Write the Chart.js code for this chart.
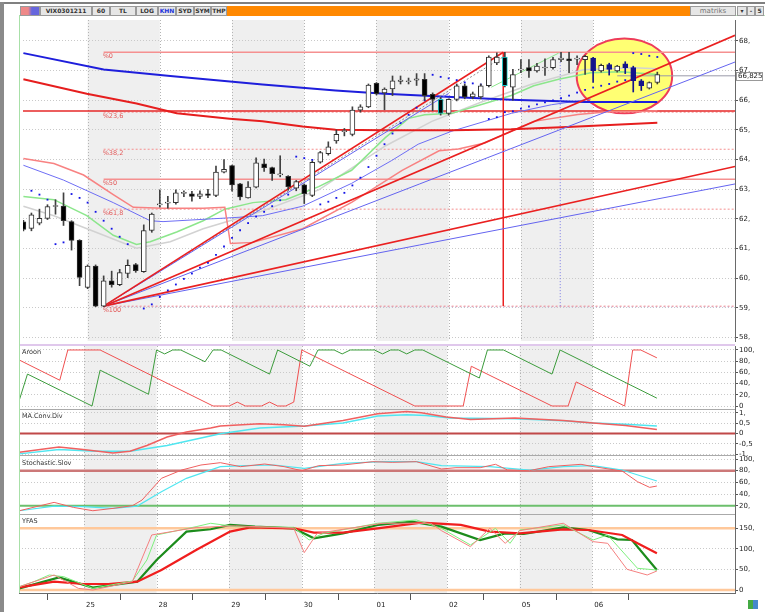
<!DOCTYPE html>
<html>
<head>
<meta charset="utf-8">
<script src="https://cdn.jsdelivr.net/npm/chart.js@4.4.1/dist/chart.umd.min.js"></script>
<style>
body { margin: 0; width: 765px; height: 612px; background: #fff; position: relative; overflow: hidden; font-family: "DejaVu Sans", sans-serif; }
canvas { position: absolute; left: 19px; }
.abs { position: absolute; }
.btn { position: absolute; top: 6px; height: 8px; background: #e6e6e6; border: 1px solid #9a9a9a; font: bold 6px "DejaVu Sans", sans-serif; color: #333; line-height: 8px; text-align: center; }
.ttl { position: absolute; left: 22px; font: 6.5px "DejaVu Sans", sans-serif; color: #333; z-index: 5; }
.sep { position: absolute; left: 19px; width: 716px; }
</style>
</head>
<body>
<div class="abs" style="left:0;top:2px;width:765px;height:2px;background:#808080"></div>
<div class="abs" style="left:0;top:2px;width:4px;height:610px;background:#8a8a8a"></div>
<div class="abs" style="left:19px;top:15px;width:746px;height:1px;background:#b8e8b8"></div>
<div class="abs" style="left:19px;top:15px;width:1px;height:578px;background:#a8e0a8;z-index:4"></div>

<div class="btn" style="left:20px;width:18px;background:linear-gradient(90deg,#e88 0,#e88 40%,#66d 60%,#66d 100%)"></div>
<div class="btn" style="left:40px;width:50px">VIX0301211</div>
<div class="btn" style="left:92px;width:16px">60</div>
<div class="btn" style="left:110px;width:24px">TL</div>
<div class="btn" style="left:136px;width:20px">LOG</div>
<div class="btn" style="left:158px;width:16px;color:#2233dd">KHN</div>
<div class="btn" style="left:176px;width:16px">SYD</div>
<div class="btn" style="left:194px;width:15px">SYM</div>
<div class="btn" style="left:211px;width:14px">THP</div>
<div class="abs" style="left:227px;top:6px;width:463px;height:10px;background:#ff8800"></div>
<div class="btn" style="left:690px;width:44px;font-weight:normal;font-size:7px;color:#777">matriks</div>
<div class="btn" style="left:737px;width:8px">▾</div>
<div class="btn" style="left:747px;width:6px">-</div>
<div class="btn" style="left:755px;width:7px">5</div>

<canvas id="cMain" width="746" height="329" style="top:16px"></canvas>
<canvas id="cAroon" width="746" height="64" style="top:346px"></canvas>
<canvas id="cMacd" width="746" height="46" style="top:410px"></canvas>
<canvas id="cStoch" width="746" height="59" style="top:456px"></canvas>
<canvas id="cYfas" width="746" height="97" style="top:515px"></canvas>

<div class="sep" style="top:344px;height:2px;background:#e0c8ec"></div>
<div class="sep" style="top:409px;height:1px;background:#aaa"></div>
<div class="sep" style="top:455px;height:1px;background:#aaa"></div>
<div class="sep" style="top:514px;height:1px;background:#aaa"></div>

<div class="ttl" style="top:348px">Aroon</div>
<div class="ttl" style="top:412px">MA.Conv.Div</div>
<div class="ttl" style="top:459px">Stochastic.Slov</div>
<div class="ttl" style="top:517px">YFAS</div>
<div class="abs" style="left:748px;top:600px;width:10px;height:9px;background:linear-gradient(90deg,#4a4 0,#4a4 50%,#48c 50%,#48c 100%)"></div>

<script>
// hourly bars, 9 per day; bar index k
const dayStarts = [8, 17, 26, 35, 44, 53, 62, 71];
const dayLabels = ['25', '28', '29', '30', '01', '02', '05', '06'];
const X_MIN = -0.05, X_MAX = 88.68;

const opens  = [61.90,61.68,61.86,62.02,62.42,62.43,61.91,61.28,59.69,60.41,59.06,59.91,59.78,60.16,60.46,60.22,61.61,62.47,62.53,62.55,62.86,62.85,62.76,62.85,62.79,63.58,63.80,63.18,62.71,63.07,63.86,63.73,63.48,63.44,63.04,63.15,62.79,63.91,64.20,64.63,64.94,64.85,65.67,65.78,66.57,66.25,66.38,66.64,66.63,66.68,66.71,66.20,66.03,65.56,66.03,66.49,66.11,66.11,66.49,67.26,67.46,66.44,67.02,67.10,66.99,67.09,67.10,67.37,67.40,67.39,67.37,67.42,66.99,67.20,66.99,67.23,67.10,66.66,66.41,66.60];
const highs  = [61.95,62.20,62.33,62.48,62.65,62.88,61.94,61.30,60.45,60.45,60.08,60.24,60.30,60.62,60.50,61.80,62.20,62.98,62.76,62.98,62.95,62.93,62.95,63.00,63.78,64.00,63.82,63.20,63.26,64.06,64.02,63.75,64.13,63.46,63.30,63.18,63.95,64.28,64.60,65.00,65.05,65.78,65.85,66.55,66.60,66.42,66.82,66.82,66.75,66.90,66.90,66.25,66.10,66.05,66.55,66.55,66.28,66.55,67.50,67.60,67.62,67.04,67.37,67.37,67.25,67.40,67.45,67.62,67.62,67.50,67.52,67.45,67.22,67.25,67.18,67.30,67.15,66.70,66.62,66.95];
const lows   = [61.60,61.60,61.80,61.98,62.16,61.78,60.95,59.75,59.65,59.04,59.04,59.70,59.75,60.02,60.20,60.20,61.55,62.40,62.36,62.50,62.75,62.60,62.68,62.72,62.75,63.55,62.94,62.64,62.70,63.05,63.60,63.30,63.42,62.97,62.95,62.52,62.75,63.88,64.15,64.55,64.80,64.80,65.60,65.75,66.18,65.68,66.16,66.55,66.55,66.50,66.00,65.65,65.50,65.50,65.98,66.05,66.05,66.05,66.45,67.20,66.45,66.00,66.93,66.77,66.95,66.84,67.05,67.30,66.93,67.20,66.87,66.60,66.95,66.85,66.95,66.90,66.28,66.33,66.38,66.55];
const closes = [61.65,62.14,62.02,62.42,62.45,61.94,61.28,60.03,60.41,59.06,59.91,59.78,60.19,60.44,60.26,61.61,62.16,62.51,62.57,62.88,62.90,62.76,62.85,62.79,63.58,63.67,63.15,62.74,63.07,63.89,63.73,63.53,63.52,63.09,63.26,62.85,63.91,64.24,64.43,64.85,64.98,65.67,65.78,66.51,66.22,66.38,66.66,66.68,66.66,66.72,66.16,66.03,65.56,66.03,66.49,66.11,66.22,66.49,67.46,67.46,66.49,66.87,67.05,66.99,67.15,67.12,67.37,67.42,67.34,67.42,67.48,66.99,67.18,67.04,67.15,67.10,66.66,66.49,66.60,66.87];
const markedBars = [71, 73, 75, 76, 77];
const cyanBars = [52, 60];

// parabolic SAR dots
const sar = [null,62.95,62.82,62.65,61.15,61.21,62.84,62.71,62.55,62.24,61.94,61.67,61.40,61.15,null,58.98,59.12,59.37,59.59,59.79,59.98,60.16,60.36,60.52,60.79,61.07,61.36,61.62,61.86,62.08,62.24,62.43,62.63,62.82,64.10,64.05,63.99,62.49,62.58,62.71,62.88,63.13,63.39,63.75,64.13,64.52,64.88,65.23,65.51,65.75,66.00,66.86,66.79,66.74,66.68,66.60,66.57,66.53,65.37,65.43,65.60,65.63,65.72,65.79,65.86,65.93,66.00,66.07,66.16,66.26,66.35,66.43,66.49,66.55,66.63,66.68,67.59,67.56,67.50,67.46];

// moving averages and bands (bar index, value)
const maBlueK = [0, 10, 18.3, 29.8, 38.9, 45, 53.4, 60.8, 69.9, 79];
const maBlueV = [67.59, 67.04, 66.82, 66.53, 66.33, 66.22, 66.11, 66.02, 65.94, 65.94];
const maRedK = [0, 7.9, 14.1, 19.1, 25.7, 29.8, 34.8, 38.9, 45.1, 53.4, 60.8, 67.8, 79];
const maRedV = [66.71, 66.22, 65.89, 65.56, 65.38, 65.29, 65.12, 65.01, 64.99, 64.99, 65.02, 65.10, 65.24];
const pinkK = [0, 3.8, 7.5, 11.2, 13.7, 17.4, 22.4, 25.1, 25.8, 28.6, 34.8, 40.9, 47.2, 51.8, 54.2, 57.5, 60.8, 63.6, 69.1, 73.2, 76.9, 79];
const pinkV = [64.04, 63.87, 63.48, 62.82, 62.39, 62.36, 62.36, 62.39, 61.17, 61.21, 61.67, 62.56, 63.64, 64.30, 64.36, 64.56, 64.96, 65.29, 65.52, 65.62, 65.62, 65.65];
const lightBlueK = [0, 5, 11.2, 15.8, 17.4, 26.5, 29.8, 34.8, 40.9, 45.9, 49.2, 53.4, 57.5, 60.8, 65.8, 70.7];
const lightBlueV = [63.81, 63.31, 62.55, 61.94, 61.91, 62.05, 62.11, 62.43, 63.20, 63.97, 64.52, 64.96, 65.29, 65.56, 65.85, 66.04];
const greenK = [0, 3.8, 7.9, 11.2, 14.1, 15.8, 19.1, 22.4, 25.1, 28.6, 32.7, 36.8, 40.9, 45.1, 48, 50, 53.4, 57.5, 60.8, 63.6, 66.7, 70.7, 74.4, 79];
const greenV = [62.76, 62.65, 62.11, 61.45, 61.14, 61.23, 61.56, 61.94, 62.33, 62.55, 62.65, 63.09, 63.64, 64.74, 65.39, 65.51, 65.56, 65.89, 66.16, 66.49, 66.71, 66.93, 66.96, 66.87];
const grayK = [0, 3.8, 10, 14.1, 18.3, 22.4, 29.8, 36.8, 45.1, 50.9, 57.1, 63.3, 69.8, 76, 79];
const grayV = [62.43, 62.11, 61.45, 61.01, 61.23, 61.67, 62.27, 62.98, 64.46, 65.29, 65.94, 66.54, 67.03, 67.10, 67.06];

// fibonacci retracement and fan drawn from the low
const pivotK = 10, pivotV = 59.06, peakK = 59.8, peakV = 67.62;
const fibLevels = [67.62, 65.60, 64.35, 63.34, 62.33, 59.06];
const fibLabels = ['%0', '%23,6', '%38,2', '%50', '%61,8', '%100'];
const supportLevel = 65.64;
const fanEnds = [[peakK, peakV], [53, 66.23], [60, 67.5], [X_MAX, 68.19], [X_MAX, 67.29], [X_MAX, 63.77], [X_MAX, 63.18]];
const trendGreenK = [58.3, 66.7], trendGreenV = [66.44, 67.59];
const markerK = 66.9;
const lastPrice = 66.825;

const mainTicks = [58, 59, 60, 61, 62, 63, 64, 65, 66, 67, 68];
const mainLabels = ['58,', '59,', '60,', '61,', '62,', '63,', '64,', '65,', '66,', '67,', '68,'];

// Aroon
const aroonUpK = [0,1,9,10,16,17,18,19,20,23,24,25,31,32,36,37,39,40,41,44,45,46,47,48,49,50,57,58,60,66,67,79];
const aroonUpV = [11,57,0,64,21,100,93,100,100,79,100,100,57,100,71,100,100,93,100,100,93,100,100,93,100,100,50,100,100,57,100,14];
const aroonDnK = [0,5,6,10,24,26,27,28,30,31,32,33,34,35,49,55,56,66,68,69,75,76,77,79];
const aroonDnV = [82,46,100,100,0,0,7,0,0,7,0,0,7,100,0,0,71,0,0,43,0,100,100,86];
const aroonTicks = [0, 20, 40, 60, 80, 100];
const aroonLabels = ['0', '20,', '40,', '60,', '80,', '100,'];

// MACD
const macdK = [0,4.9,7.9,11.6,13.7,15.8,18.3,20.7,23.7,24.9,29.8,32.8,35.3,40.1,44.4,48,49.8,52.9,55.9,61.4,67.4,71.1,75.1,79];
const macdV = [-0.9,-0.65,-0.77,-0.94,-0.85,-0.58,-0.17,0.07,0.26,0.36,0.47,0.42,0.35,0.63,0.95,1.06,1.0,0.79,0.67,0.74,0.63,0.51,0.38,0.19];
const signalK = [0,4.9,9.4,13.7,18.3,24.9,29.8,35.3,40.1,44.4,48,50.4,53.4,61.4,67.4,71.1,75.1,79];
const signalV = [-0.98,-0.77,-0.85,-0.85,-0.58,-0.01,0.26,0.36,0.51,0.84,0.9,0.87,0.75,0.71,0.61,0.51,0.45,0.36];
const macdTicks = [-1, -0.5, 0, 0.5, 1];
const macdLabels = ['-1,', '-0,5', '0', '0,5', '1,'];

// Stochastic slow
const stochKK = [0,4.3,6.7,9.1,11.6,14,15.2,17.6,20.1,22.5,24.9,27.4,30.4,32.8,35,37.1,40.1,43.8,46.2,49.2,52.3,54.1,57.1,59,60.5,63.2,65.6,69.6,71.1,74.7,76.6,78.1,79];
const stochKV = [11.4,25.7,17.1,11.4,15.4,20,29.7,66.9,81.1,89.7,93.7,86.9,91.4,86.9,80,88.6,89.7,95.4,94.3,95.4,82.9,85.1,85.1,90.9,81.1,80,86.9,90.9,86.9,79.4,61.1,51.4,53.7];
const stochDK = [0,4.3,7.9,11.6,14.6,17.6,20.7,24.9,28,31.6,35.3,40.1,45,49.2,52.3,58.3,63.2,67.4,71.1,74.7,79];
const stochDV = [11.4,19.4,18.3,15.4,19.4,44,66.9,86.9,88.6,89.7,84,92.6,95.4,95.4,88.6,86.9,81.1,86.9,88.6,81.1,62.3];
const stochTicks = [20, 40, 60, 80, 100];
const stochLabels = ['20,', '40,', '60,', '80,', '100,'];

// YFAS
const yfRedK = [0,4.3,7.9,11,14.6,17.6,21.9,26.1,28.6,34,36.5,40.1,44.4,49.8,54.7,58.3,62,67.4,70.5,74.7,76.6,79];
const yfRedV = [6.5,20.3,14.6,14.6,20.3,48.6,97.3,141.9,152.4,150,139.5,139.5,150,163.8,158.1,141.9,137.8,147.6,145.9,133.8,113.5,89.2];
const yfGreenK = [0,4.9,9.1,14.6,17,20.7,23.7,26.1,29.2,34,36.5,40.1,44.4,48.6,52.3,57.1,60.2,62.5,67.4,70.5,74.1,75.9,79];
const yfGreenV = [4,30.8,5.7,20.3,73,141.9,147.6,158.1,154,150,125.7,137.8,158.1,166.2,154,121.6,137.8,136.2,152.4,145.9,123.2,121.6,48.6];
const yfLightK = [0,1.8,3.7,5.5,9.1,14,15.8,17,21.9,23.7,26.8,34,35.9,37.7,44.4,49.2,52.3,55.9,59,60.8,62,67.4,71.1,72.9,76.6,79];
const yfLightV = [8.1,20.3,36.5,32.4,4,21.9,73,133.8,154,162.2,154,152.4,121.6,137.8,162.2,170.3,150,109.5,150,113.5,146,158.1,121.6,133.8,52.7,48.6];
const yfPinkK = [0,4.3,7.3,9.1,14,16.4,21.9,26.8,34,35.3,36.9,45,51,52.3,55.9,58.3,60.2,62,67.4,71.1,72.9,75.3,77.8,79];
const yfPinkV = [8.1,36.5,4,0,20.3,133.8,152,156,150,90.8,137.8,162.2,162.2,144.3,105.4,150,113.5,144.3,162.2,117.6,113.5,50.3,36.5,46.2];
const yfTicks = [0, 50, 100, 150];
const yfLabels = ['0', '50,', '100,', '150,'];

const FONT = { size: 7, family: 'DejaVu Sans' };
const shadedDays = [[dayStarts[0], dayStarts[1]], [dayStarts[2], dayStarts[3]], [dayStarts[4], dayStarts[5]], [dayStarts[6], dayStarts[7]]];

const dayBands = {
    id: 'dayBands',
    beforeDraw(chart) {
        const { ctx, chartArea: a, scales: { x } } = chart;
        ctx.save();
        ctx.fillStyle = '#efefef';
        for (const [s, e] of shadedDays) {
            const l = x.getPixelForValue(s), r = x.getPixelForValue(e);
            ctx.fillRect(l, a.top, r - l, a.bottom - a.top);
        }
        ctx.strokeStyle = '#b4b4b4';
        ctx.lineWidth = 1;
        ctx.setLineDash([1, 2]);
        for (const d of dayStarts) {
            const px = Math.round(x.getPixelForValue(d)) + 0.5;
            ctx.beginPath();
            ctx.moveTo(px, a.top);
            ctx.lineTo(px, a.bottom);
            ctx.stroke();
        }
        ctx.restore();
    }
};

const mainExtras = {
    id: 'mainExtras',
    beforeDatasetsDraw(chart) {
        const { ctx, scales: { x, y } } = chart;
        const cx = x.getPixelForValue(74.9), cy = y.getPixelForValue(66.82);
        const rx = x.getPixelForValue(74.9 + 5.95) - cx, ry = cy - y.getPixelForValue(66.82 + 1.26);
        ctx.save();
        ctx.beginPath();
        ctx.ellipse(cx, cy, rx, ry, 0, 0, Math.PI * 2);
        ctx.fillStyle = '#ffff73';
        ctx.fill();
        ctx.lineWidth = 2;
        ctx.strokeStyle = '#ee3c5a';
        ctx.stroke();
        ctx.restore();
    },
    afterDatasetsDraw(chart) {
        const { ctx, chartArea: a, scales: { x, y } } = chart;
        ctx.save();
        ctx.font = '6.5px "DejaVu Sans"';
        ctx.fillStyle = '#e35a5a';
        ctx.textBaseline = 'top';
        fibLevels.forEach((v, i) => {
            ctx.fillText(fibLabels[i], x.getPixelForValue(pivotK) - 1, y.getPixelForValue(v) + 1);
        });
        const py = Math.round(y.getPixelForValue(lastPrice));
        ctx.fillStyle = '#fff';
        ctx.fillRect(a.right + 1, py - 4, 27, 8);
        ctx.strokeStyle = '#999';
        ctx.lineWidth = 1;
        ctx.strokeRect(a.right + 1.5, py - 3.5, 26, 8);
        ctx.fillStyle = '#222';
        ctx.font = '7px "DejaVu Sans"';
        ctx.textBaseline = 'middle';
        ctx.fillText('66,825', a.right + 3, py + 0.5);
        ctx.restore();
    }
};

function line(xs, ys, color, width, dash) {
    return {
        type: 'line',
        data: xs.map((k, i) => ({ x: k, y: ys[i] })),
        borderColor: color, borderWidth: width, borderDash: dash || [],
        pointRadius: 0, fill: false, tension: 0
    };
}

function hline(v, color, width, dash, from) {
    return line([from === undefined ? X_MIN : from, X_MAX], [v, v], color, width, dash);
}

function yScale(min, max, ticks, labels) {
    return {
        position: 'right', min: min, max: max,
        afterBuildTicks: (s) => { s.ticks = ticks.map((v) => ({ value: v })); },
        afterFit: (s) => { s.width = 30; s.paddingTop = 0; s.paddingBottom = 0; },
        ticks: { callback: (v, i) => labels[i], font: FONT, color: '#222', padding: 1, autoSkip: false },
        grid: { color: '#c9c9c9', tickColor: '#555', tickLength: 3 },
        border: { color: '#6a6a6a', dash: [1, 2] }
    };
}

function xScale(show) {
    return {
        type: 'linear', min: X_MIN, max: X_MAX, offset: false, display: show,
        afterBuildTicks: (s) => { s.ticks = dayStarts.map((v) => ({ value: v })); },
        afterFit: (s) => {
            s.height = show ? 19 : 0;
            s.paddingLeft = 0;
            s.paddingRight = 0;
        },
        ticks: { callback: (v, i) => dayLabels[i], font: FONT, color: '#222', align: 'start', labelOffset: 2, padding: 1, maxRotation: 0, autoSkip: false },
        grid: { drawOnChartArea: false, tickColor: '#555', tickLength: 7 },
        border: { color: '#6a6a6a' }
    };
}

function makeChart(id, datasets, yMin, yMax, ticks, labels, showX, extra) {
    return new Chart(document.getElementById(id), {
        type: 'bar',
        data: { datasets: datasets },
        options: {
            responsive: false, animation: false, devicePixelRatio: 1,
            layout: { padding: 0 },
            plugins: { legend: { display: false }, tooltip: { enabled: false } },
            scales: { x: xScale(showX), y: yScale(yMin, yMax, ticks, labels) }
        },
        plugins: [dayBands].concat(extra || [])
    });
}

// main price panel
const idx = opens.map((_, i) => i);
const bodyFill = idx.map((i) => markedBars.includes(i) ? '#14148c' : (closes[i] >= opens[i] ? '#ffffff' : '#000000'));
const bodyEdge = idx.map((i) => cyanBars.includes(i) ? '#18c8c8' : (markedBars.includes(i) ? '#14148c' : '#303030'));
const wickColor = idx.map((i) => markedBars.includes(i) ? '#14148c' : '#404040');

const mainSets = [
    { type: 'bar', data: idx.map((i) => ({ x: i, y: [opens[i], closes[i]] })), backgroundColor: bodyFill, borderColor: bodyEdge, borderWidth: 1, borderSkipped: false, barThickness: 5, grouped: false },
    { type: 'bar', data: idx.map((i) => ({ x: i, y: [lows[i], highs[i]] })), backgroundColor: wickColor, barThickness: 1, grouped: false },
    { type: 'line', showLine: false, data: idx.filter((i) => sar[i] !== null).map((i) => ({ x: i, y: sar[i] })), pointStyle: 'rect', pointRadius: 1.3, pointBackgroundColor: '#1414e6', pointBorderWidth: 0 },
    line([pivotK, fanEnds[0][0]], [pivotV, fanEnds[0][1]], '#ea2020', 1.6),
    line([pivotK, fanEnds[1][0]], [pivotV, fanEnds[1][1]], '#6464f0', 1),
    line([pivotK, fanEnds[2][0]], [pivotV, fanEnds[2][1]], '#8c8c8c', 1, [2, 2]),
    line([pivotK, fanEnds[3][0]], [pivotV, fanEnds[3][1]], '#ea2020', 1.6),
    line([pivotK, fanEnds[4][0]], [pivotV, fanEnds[4][1]], '#6464f0', 1),
    line([pivotK, fanEnds[5][0]], [pivotV, fanEnds[5][1]], '#ea2020', 1.6),
    line([pivotK, fanEnds[6][0]], [pivotV, fanEnds[6][1]], '#6464f0', 1),
    line(trendGreenK, trendGreenV, '#8ce68c', 1),
    line([peakK, peakK], [pivotV, peakV], '#ea2020', 1.5),
    line([markerK, markerK], [pivotV, peakV], '#7a7ae6', 1, [1, 2]),
    line(maBlueK, maBlueV, '#1e1edc', 2),
    line(maRedK, maRedV, '#e61e1e', 2),
    line(pinkK, pinkV, '#f88282', 1.5),
    line(lightBlueK, lightBlueV, '#6e6ef5', 1),
    line(greenK, greenV, '#8ce68c', 1.5),
    line(grayK, grayV, '#d2d2d2', 1.5),
    hline(supportLevel, '#e62828', 1.5),
    hline(lastPrice, '#9a9aa8', 1, [], 74),
    hline(fibLevels[0], '#f59090', 1.5, [], pivotK),
    hline(fibLevels[1], '#f59090', 1, [2, 2], pivotK),
    hline(fibLevels[2], '#f59090', 1, [2, 2], pivotK),
    hline(fibLevels[3], '#f59090', 1.5, [], pivotK),
    hline(fibLevels[4], '#f59090', 1, [2, 2], pivotK),
    hline(fibLevels[5], '#f59090', 1, [2, 2], pivotK),
    hline(fibLevels[5] - 0.02, '#9a9af0', 1, [1, 3], pivotK)
];
makeChart('cMain', mainSets, 57.885, 68.707, mainTicks, mainLabels, false, [mainExtras]);

makeChart('cAroon', [
    line(aroonUpK, aroonUpV, '#3c9c3c', 1),
    line(aroonDnK, aroonDnV, '#f05050', 1)
], -7.14, 107.14, aroonTicks, aroonLabels, false);

makeChart('cMacd', [
    line(macdK, macdV, '#f06060', 1.5),
    line(signalK, signalV, '#50e6f0', 1.5),
    hline(0, '#c04848', 2)
], -1.082, 1.13, macdTicks, macdLabels, false);

makeChart('cStoch', [
    line(stochKK, stochKV, '#f06060', 1),
    line(stochDK, stochDV, '#50e6f0', 1.2),
    hline(80, '#cc7878', 2.5),
    hline(20, '#6cbf6c', 2)
], 4.07, 105.14, stochTicks, stochLabels, false);

makeChart('cYfas', [
    line(yfPinkK, yfPinkV, '#f58080', 1),
    line(yfLightK, yfLightV, '#7ef07e', 1),
    line(yfRedK, yfRedV, '#f01e1e', 2.2),
    line(yfGreenK, yfGreenV, '#1c8c1c', 2.2),
    hline(150, '#ffc89a', 2.5),
    hline(0, '#ffc89a', 2.5)
], -7.29, 182.33, yfTicks, yfLabels, true);
</script>
</body>
</html>
